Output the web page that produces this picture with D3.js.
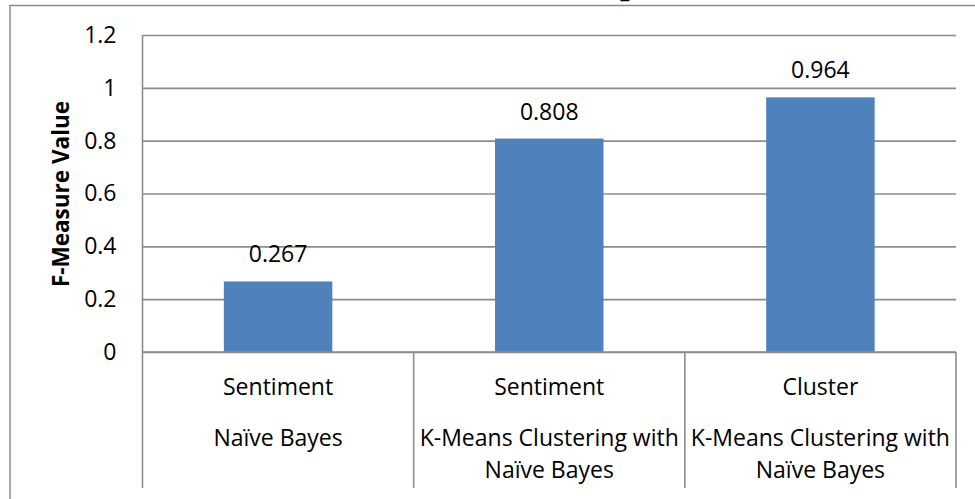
<!DOCTYPE html>
<html>
<head>
<meta charset="utf-8">
<script src="https://cdn.jsdelivr.net/npm/d3@7"></script>
<style>
html,body{margin:0;padding:0;background:#fff;}
svg{display:block;}
text{font-family:"Open Sans",sans-serif;fill:#000;}
</style>
</head>
<body>
<svg id="chart" width="975" height="499"></svg>
<script>
const groups = ["Sentiment", "Sentiment", "Cluster"];
const methods = [["Naïve Bayes"], ["K-Means Clustering with", "Naïve Bayes"], ["K-Means Clustering with", "Naïve Bayes"]];
const values = [0.267, 0.808, 0.964];
const yTicks = [0, 0.2, 0.4, 0.6, 0.8, 1, 1.2];
const yTitle = "F-Measure Value";

(function () {
const svg = d3.select("#chart");
const W = 975, H = 499;
const pLeft = 142.5, pRight = 956, pTop = 35, base = 352;
const fs = "23px";
const ids = values.map((v, i) => i);

const x = d3.scaleBand().domain(ids).range([pLeft, pRight]).paddingInner(0.6).paddingOuter(0.3);
const y = d3.scaleLinear().domain([0, 1.2]).range([base, pTop]);

// chart border (top + left visible)
svg.append("path").attr("d", `M10,${H} L10,5.5 L${W},5.5`).attr("fill", "none")
  .attr("stroke", "#8a8a8a").attr("stroke-width", 1.5);
// cut-off title remnant
svg.append("text").attr("x", 625).attr("y", -2).attr("text-anchor", "middle")
  .style("font-size", "20px").text("_");

// gridlines
const grid = svg.append("g").attr("transform", `translate(${pLeft},0)`)
  .call(d3.axisLeft(y).tickValues(yTicks).tickSize(-(pRight - pLeft)).tickFormat(""));
grid.select(".domain").remove();
grid.selectAll("line").attr("stroke", "#8c8c8c").attr("stroke-width", 1.6);

// y axis labels
const ya = svg.append("g").attr("transform", `translate(${pLeft},0)`)
  .call(d3.axisLeft(y).tickValues(yTicks).tickSize(0).tickPadding(26)
    .tickFormat(d => String(+d.toFixed(1))));
ya.select(".domain").remove();
ya.selectAll("text").style("font-family", '"Open Sans",sans-serif').style("font-size", fs).attr("fill", "#000");

// bars
svg.append("g").selectAll("rect").data(ids).join("rect")
  .attr("x", i => x(i)).attr("width", x.bandwidth())
  .attr("y", i => y(values[i])).attr("height", i => base - y(values[i]))
  .attr("fill", "#4f81bd");

// data labels
svg.append("g").selectAll("text").data(ids).join("text")
  .attr("x", i => x(i) + x.bandwidth() / 2).attr("y", i => y(values[i]) - 19)
  .attr("text-anchor", "middle").style("font-size", fs)
  .text(i => values[i].toFixed(3));

// axis lines
svg.append("line").attr("x1", pLeft).attr("x2", pLeft).attr("y1", pTop).attr("y2", base)
  .attr("stroke", "#8c8c8c").attr("stroke-width", 1.6);
svg.append("line").attr("x1", pLeft).attr("x2", pRight).attr("y1", base).attr("y2", base)
  .attr("stroke", "#8c8c8c").attr("stroke-width", 1.6);

// category dividers
const step = x.step();
const divs = d3.range(ids.length + 1).map(k => pLeft + k * step);
svg.append("g").selectAll("line").data(divs).join("line")
  .attr("x1", d => d).attr("x2", d => d).attr("y1", base).attr("y2", 488)
  .attr("stroke", "#8c8c8c").attr("stroke-width", 1.6);

// category labels
const cat = svg.append("g");
ids.forEach(i => {
  const cx = x(i) + x.bandwidth() / 2;
  cat.append("text").attr("x", cx).attr("y", 395).attr("text-anchor", "middle")
    .style("font-size", fs).text(groups[i]);
  methods[i].forEach((m, j) => {
    cat.append("text").attr("x", cx).attr("y", 446 + j * 32).attr("text-anchor", "middle")
      .style("font-size", fs).text(m);
  });
});

// y axis title
svg.append("text").attr("transform", `translate(69,194) rotate(-90)`)
  .attr("text-anchor", "middle").style("font-size", "22.5px").style("font-weight", "bold")
  .text(yTitle);
})();
</script>
</body>
</html>
